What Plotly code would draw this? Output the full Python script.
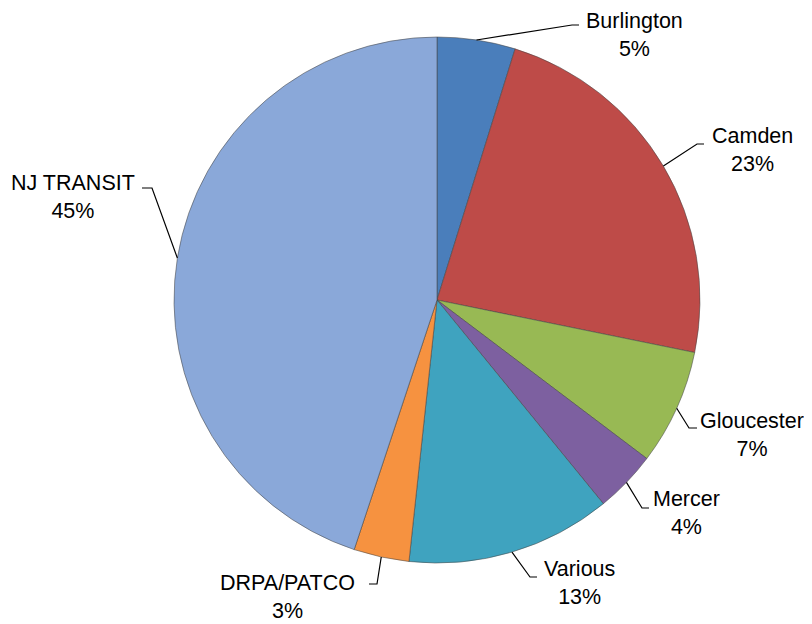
import math
import plotly.graph_objects as go

# ---- data ----
categories = ["Burlington", "Camden", "Gloucester", "Mercer", "Various", "DRPA/PATCO", "NJ TRANSIT"]
values = [4.8, 23.4, 7.1, 3.8, 12.6, 3.4, 44.9]
colors = ["#4a7ebb", "#be4b48", "#98b954", "#7d60a0", "#3fa3bf", "#f69240", "#8aa8d9"]

# ---- layout settings (pixels in the page) ----
PAGE_W, PAGE_H = 812, 624
OFF = 8  # default body margin of the html page
W, H = PAGE_W - OFF, PAGE_H - OFF
CX, CY, R = 437, 300, 263
# label text centre, elbow point, end of horizontal tick
label_pos = [(634, 35), (752, 150), (752, 435), (686, 513), (579, 583), (287, 597), (73, 197)]
elbow_pos = [(572, 25), (697, 144), (689, 428), (642, 508), (530, 577), (377, 584), (152, 188)]
tick_end_x = [579, 704, 697, 649, 537, 369, 142]

def px(x):
    return (x - OFF) / W

def py(y):
    return 1 - (y - OFF) / H

fig = go.Figure(go.Pie(
    labels=categories,
    values=values,
    sort=False,
    direction="clockwise",
    rotation=0,
    textinfo="none",
    marker=dict(colors=colors, line=dict(color="rgba(70,70,70,0.55)", width=1)),
    domain=dict(x=[px(CX - R), px(CX + R)], y=[py(CY + R), py(CY - R)]),
    showlegend=False,
    hoverinfo="label+percent",
))

total = sum(values)
cum = 0.0
shapes = []
annotations = []
for i, (cat, v) in enumerate(zip(categories, values)):
    mid = (cum + v / 2) / total
    cum += v
    ang = 2 * math.pi * mid
    ex = CX + R * math.sin(ang)
    ey = CY - R * math.cos(ang)
    bx, by = elbow_pos[i]
    tx = tick_end_x[i]
    path = f"M {px(ex)},{py(ey)} L {px(bx)},{py(by)} L {px(tx)},{py(by)}"
    shapes.append(dict(type="path", path=path, xref="paper", yref="paper",
                       line=dict(color="black", width=1.2)))
    pct = round(v / total * 100)
    lx, ly = label_pos[i]
    annotations.append(dict(x=px(lx), y=py(ly), xref="paper", yref="paper",
                            text=f"{cat}<br>{pct}%", showarrow=False,
                            xanchor="center", yanchor="middle", align="center",
                            font=dict(family="Liberation Sans, Arial, sans-serif", size=21.5, color="black")))

fig.update_layout(
    width=W, height=H,
    margin=dict(l=0, r=0, t=0, b=0),
    paper_bgcolor="white",
    plot_bgcolor="white",
    shapes=shapes,
    annotations=annotations,
)

fig.write_html("out.html")
